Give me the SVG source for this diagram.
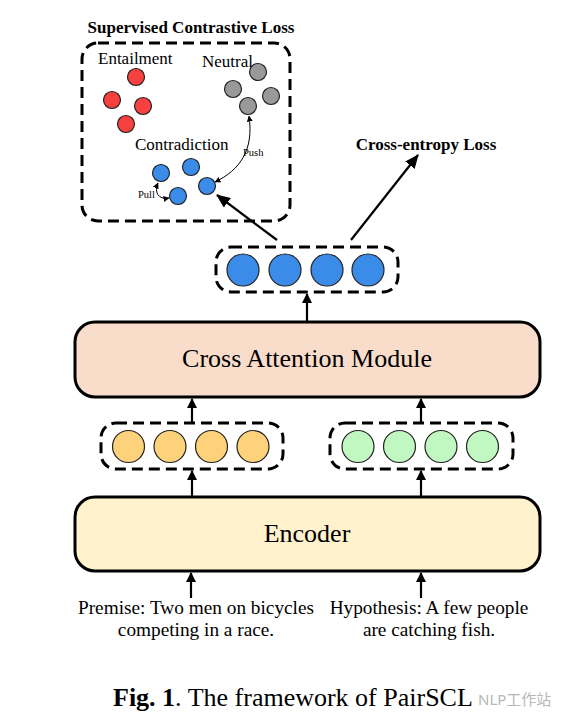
<svg xmlns="http://www.w3.org/2000/svg" width="565" height="727" viewBox="0 0 565 727">
<style>
.t{font-family:"Liberation Serif","Times New Roman",serif;fill:#000}
.dash{fill:none;stroke:#000;stroke-width:3;stroke-dasharray:11 6}
.c{stroke:#222;stroke-width:1.2}
.red{fill:#f74040}
.gray{fill:#999}
.blue{fill:#3b8ce8}
.org{fill:#fdd27b}
.grn{fill:#c1f7c1}
.arrow{fill:none;stroke:#000;stroke-width:2.2}
.thin{fill:none;stroke:#000;stroke-width:1}
</style>
<defs>
<marker id="ah" markerWidth="10" markerHeight="10" refX="9" refY="5" orient="auto" markerUnits="userSpaceOnUse" viewBox="0 0 10 10">
<path d="M0,0 L10,5 L0,10 z" fill="#000"/>
</marker>
<marker id="ahBig" markerWidth="14" markerHeight="12" refX="13" refY="6" orient="auto" markerUnits="userSpaceOnUse" viewBox="0 0 14 12">
<path d="M0,0 L14,6 L0,12 z" fill="#000"/>
</marker>
<marker id="ahS" markerWidth="6" markerHeight="6" refX="5.5" refY="3" orient="auto" markerUnits="userSpaceOnUse" viewBox="0 0 6 6">
<path d="M0,0 L6,3 L0,6 z" fill="#000"/>
</marker>
<marker id="ahSs" markerWidth="6" markerHeight="6" refX="0.5" refY="3" orient="auto" markerUnits="userSpaceOnUse" viewBox="0 0 6 6">
<path d="M6,0 L0,3 L6,6 z" fill="#000"/>
</marker>
</defs>

<g id="scl">
<text class="t" x="191" y="33" font-size="17" font-weight="bold" text-anchor="middle">Supervised Contrastive Loss</text>
<rect class="dash" x="82" y="43" width="208" height="178" rx="16"/>
<text class="t" x="98" y="64" font-size="17">Entailment</text>
<text class="t" x="202" y="67" font-size="17">Neutral</text>
<text class="t" x="135" y="150" font-size="17">Contradiction</text>
<circle class="c red" cx="136" cy="77" r="8.5"/>
<circle class="c red" cx="112" cy="100" r="8.5"/>
<circle class="c red" cx="143" cy="106" r="8.5"/>
<circle class="c red" cx="126" cy="124" r="8.5"/>
<circle class="c gray" cx="258" cy="72" r="8.5"/>
<circle class="c gray" cx="233" cy="89" r="8.5"/>
<circle class="c gray" cx="271" cy="96" r="8.5"/>
<circle class="c gray" cx="248" cy="106" r="8.5"/>
<circle class="c blue" cx="161" cy="173" r="8.5"/>
<circle class="c blue" cx="191" cy="167" r="8.5"/>
<circle class="c blue" cx="207" cy="186" r="8.5"/>
<circle class="c blue" cx="178" cy="196" r="8.5"/>
<text class="t" x="243" y="156" font-size="10.5">Push</text>
<text class="t" x="138" y="198" font-size="10.5">Pull</text>
</g>

<g id="blue-row">
<rect class="dash" x="216" y="247" width="182" height="45" rx="15"/>
<circle class="c blue" cx="243" cy="270" r="16"/>
<circle class="c blue" cx="285" cy="270" r="16"/>
<circle class="c blue" cx="327" cy="270" r="16"/>
<circle class="c blue" cx="368" cy="270" r="16"/>
</g>

<g id="ce-label">
<text class="t" x="426" y="150" font-size="17" font-weight="bold" text-anchor="middle">Cross-entropy Loss</text>
</g>

<g id="cross-attention">
<rect x="75" y="322" width="465" height="75" rx="20" fill="#fadccb" stroke="#000" stroke-width="3"/>
<text class="t" x="307" y="367" font-size="26" text-anchor="middle">Cross Attention Module</text>
</g>

<g id="premise-row">
<rect class="dash" x="101" y="423" width="182" height="46" rx="15"/>
<circle class="c org" cx="128.5" cy="446.5" r="16"/>
<circle class="c org" cx="170" cy="446.5" r="16"/>
<circle class="c org" cx="211.5" cy="446.5" r="16"/>
<circle class="c org" cx="253" cy="446.5" r="16"/>
</g>

<g id="hypothesis-row">
<rect class="dash" x="330" y="423" width="183" height="46" rx="15"/>
<circle class="c grn" cx="358" cy="446.5" r="16"/>
<circle class="c grn" cx="399.5" cy="446.5" r="16"/>
<circle class="c grn" cx="441" cy="446.5" r="16"/>
<circle class="c grn" cx="482.5" cy="446.5" r="16"/>
</g>

<g id="encoder">
<rect x="75" y="497" width="465" height="74" rx="20" fill="#fff2cd" stroke="#000" stroke-width="3"/>
<text class="t" x="307" y="542" font-size="26" text-anchor="middle">Encoder</text>
</g>

<g id="premise">
<text class="t" x="196" y="614" font-size="19.3" text-anchor="middle">Premise: Two men on bicycles</text>
<text class="t" x="196" y="636" font-size="19.3" text-anchor="middle">competing in a race.</text>
</g>
<g id="hypothesis">
<text class="t" x="429" y="614" font-size="19.3" text-anchor="middle">Hypothesis: A few people</text>
<text class="t" x="429" y="636" font-size="19.3" text-anchor="middle">are catching fish.</text>
</g>

<g id="connectors">
<line class="arrow" x1="191" y1="598" x2="191" y2="573" marker-end="url(#ah)"/>
<line class="arrow" x1="421" y1="598" x2="421" y2="573" marker-end="url(#ah)"/>
<line class="arrow" x1="192" y1="497" x2="192" y2="471" marker-end="url(#ah)"/>
<line class="arrow" x1="421" y1="497" x2="421" y2="471" marker-end="url(#ah)"/>
<line class="arrow" x1="192" y1="422" x2="192" y2="399" marker-end="url(#ah)"/>
<line class="arrow" x1="421" y1="422" x2="421" y2="399" marker-end="url(#ah)"/>
<line class="arrow" x1="307" y1="321" x2="307" y2="294" marker-end="url(#ah)"/>
<line class="arrow" x1="277" y1="240" x2="217" y2="195" marker-end="url(#ahBig)"/>
<line class="arrow" x1="351" y1="240" x2="418" y2="155" marker-end="url(#ahBig)"/>
<path class="thin" d="M249,116 C254,150 240,170 215,182" marker-start="url(#ahSs)" marker-end="url(#ahS)"/>
<path class="thin" d="M158,183 C154,192 158,200 169,198" marker-start="url(#ahSs)" marker-end="url(#ahS)"/>
</g>

<g id="caption">
<text class="t" x="113" y="706" font-size="26"><tspan font-weight="bold">Fig. 1</tspan>. The framework of PairSCL</text>
<text x="478" y="705" font-size="15" fill="#b0b0b0" opacity="0.9" font-family="'Noto Sans','Noto Sans CJK SC',sans-serif">NLP工作站</text>
</g>
</svg>
